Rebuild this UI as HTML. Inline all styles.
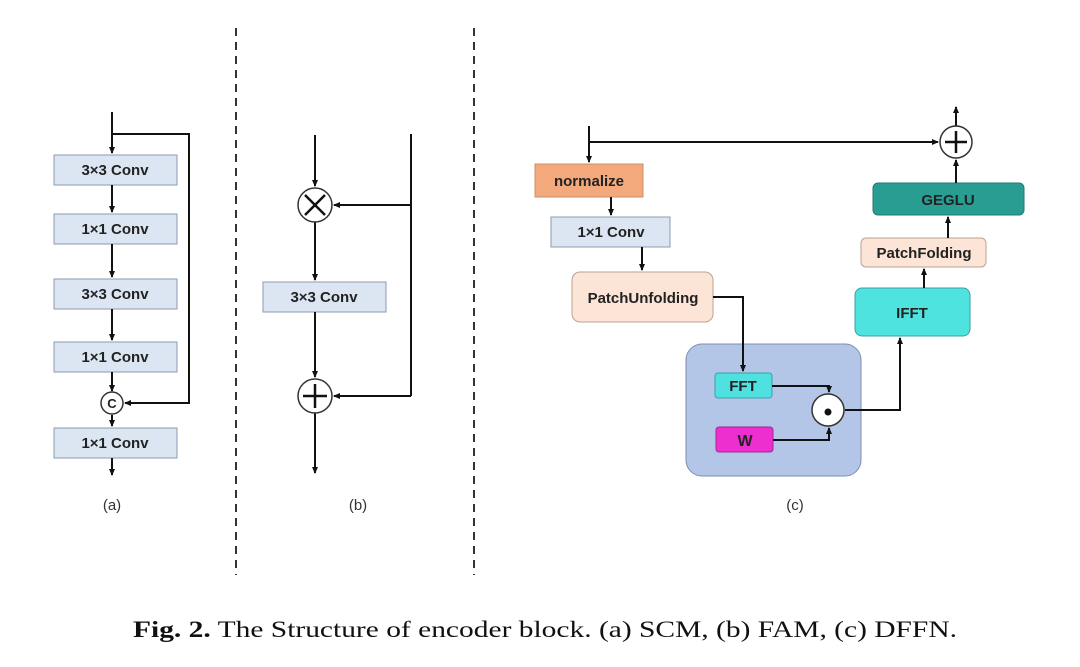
<!DOCTYPE html>
<html><head><meta charset="utf-8"><style>
html,body{margin:0;padding:0;background:#fff;}
svg{display:block;}
.t{font-family:"Liberation Sans",sans-serif;font-weight:bold;fill:#222;text-anchor:middle;}
</style></head><body>
<svg width="1080" height="667" viewBox="0 0 1080 667" xmlns="http://www.w3.org/2000/svg">
<defs>
<marker id="a" markerWidth="8" markerHeight="8" refX="6" refY="4" orient="auto" markerUnits="userSpaceOnUse"><path d="M0,1 L7,4 L0,7 z" fill="#111"/></marker>
</defs>
<g stroke="#333" stroke-width="2" stroke-dasharray="8,6">
<line x1="236" y1="28" x2="236" y2="575"/><line x1="474" y1="28" x2="474" y2="575"/>
</g>
<!-- (a) boxes -->
<g fill="#dce6f2" stroke="#8a9bb0" stroke-width="1">
<rect x="54" y="155" width="123" height="30"/><rect x="54" y="214" width="123" height="30"/>
<rect x="54" y="279" width="123" height="30"/><rect x="54" y="342" width="123" height="30"/>
<rect x="54" y="428" width="123" height="30"/><rect x="263" y="282" width="123" height="30"/>
</g>
<g class="t" font-size="15">
<text x="115" y="175">3×3 Conv</text><text x="115" y="234">1×1 Conv</text>
<text x="115" y="299">3×3 Conv</text><text x="115" y="362">1×1 Conv</text>
<text x="115" y="448">1×1 Conv</text><text x="324" y="302">3×3 Conv</text>
</g>
<g font-family="Liberation Sans,sans-serif" font-size="15" fill="#333" text-anchor="middle">
<text x="112" y="510">(a)</text><text x="358" y="510">(b)</text><text x="795" y="510">(c)</text></g>
<!-- (c) boxes -->
<rect x="535" y="164" width="108" height="33" fill="#f4a97c" stroke="#c9906a"/>
<text class="t" x="589" y="186" font-size="15">normalize</text>
<rect x="551" y="217" width="119" height="30" fill="#dce6f2" stroke="#8a9bb0"/>
<text class="t" x="611" y="237" font-size="15">1×1 Conv</text>
<rect x="572" y="272" width="141" height="50" rx="8" fill="#fce4d6" stroke="#b9a393"/>
<text class="t" x="643" y="303" font-size="15">PatchUnfolding</text>
<rect x="686" y="344" width="175" height="132" rx="16" fill="#b4c6e7" stroke="#7d8fb0"/>
<rect x="715" y="373" width="57" height="25" rx="3" fill="#4fe0e0" stroke="#3a9fa5"/>
<text class="t" x="743" y="391" font-size="15">FFT</text>
<rect x="716" y="427" width="57" height="25" rx="3" fill="#ee2fd0" stroke="#a52591"/>
<text class="t" x="745" y="446" font-size="16">W</text>
<rect x="855" y="288" width="115" height="48" rx="7" fill="#4fe3e0" stroke="#3a9fa5"/>
<text class="t" x="912" y="318" font-size="15">IFFT</text>
<rect x="861" y="238" width="125" height="29" rx="5" fill="#fce4d6" stroke="#b9a393"/>
<text class="t" x="924" y="258" font-size="15">PatchFolding</text>
<rect x="873" y="183" width="151" height="32" rx="5" fill="#2a9d92" stroke="#1f7a72"/>
<text class="t" x="948" y="205" font-size="15">GEGLU</text>
<!-- connectors -->
<g stroke="#111" stroke-width="2" fill="none">
<line x1="112" y1="112" x2="112" y2="153" marker-end="url(#a)"/>
<polyline points="112,134 189,134 189,403 125,403" marker-end="url(#a)"/>
<line x1="112" y1="185" x2="112" y2="212" marker-end="url(#a)"/>
<line x1="112" y1="244" x2="112" y2="277" marker-end="url(#a)"/>
<line x1="112" y1="309" x2="112" y2="340" marker-end="url(#a)"/>
<line x1="112" y1="372" x2="112" y2="391" marker-end="url(#a)"/>
<line x1="112" y1="415" x2="112" y2="426" marker-end="url(#a)"/>
<line x1="112" y1="458" x2="112" y2="475" marker-end="url(#a)"/>
<line x1="315" y1="135" x2="315" y2="186" marker-end="url(#a)"/>
<line x1="411" y1="134" x2="411" y2="396"/>
<line x1="411" y1="205" x2="334" y2="205" marker-end="url(#a)"/>
<line x1="411" y1="396" x2="334" y2="396" marker-end="url(#a)"/>
<line x1="315" y1="222" x2="315" y2="280" marker-end="url(#a)"/>
<line x1="315" y1="312" x2="315" y2="377" marker-end="url(#a)"/>
<line x1="315" y1="413" x2="315" y2="473" marker-end="url(#a)"/>
<line x1="589" y1="126" x2="589" y2="162" marker-end="url(#a)"/>
<line x1="589" y1="142" x2="938" y2="142" marker-end="url(#a)"/>
<line x1="956" y1="126" x2="956" y2="107" marker-end="url(#a)"/>
<line x1="611" y1="197" x2="611" y2="215" marker-end="url(#a)"/>
<line x1="642" y1="247" x2="642" y2="270" marker-end="url(#a)"/>
<polyline points="713,297 743,297 743,371" marker-end="url(#a)"/>
<polyline points="772,386 829,386 829,392" marker-end="url(#a)"/>
<polyline points="773,440 829,440 829,428" marker-end="url(#a)"/>
<polyline points="845,410 900,410 900,338" marker-end="url(#a)"/>
<line x1="924" y1="288" x2="924" y2="269" marker-end="url(#a)"/>
<line x1="948" y1="238" x2="948" y2="217" marker-end="url(#a)"/>
<line x1="956" y1="183" x2="956" y2="160" marker-end="url(#a)"/>
</g>
<circle cx="112" cy="403" r="11" fill="#fff" stroke="#333" stroke-width="1.5"/>
<text class="t" x="112" y="408" font-size="13">C</text>
<g fill="#fff" stroke="#333" stroke-width="1.5"><circle cx="315" cy="205" r="17"/><circle cx="315" cy="396" r="17"/><circle cx="956" cy="142" r="16"/><circle cx="828" cy="410" r="16"/></g>
<circle cx="828" cy="412" r="3.5" fill="#111"/>
<g stroke="#111" stroke-width="2.5"><line x1="305" y1="195" x2="325" y2="215"/><line x1="325" y1="195" x2="305" y2="215"/>
<line x1="303" y1="396" x2="327" y2="396"/><line x1="315" y1="384" x2="315" y2="408"/>
<line x1="945" y1="142" x2="967" y2="142"/><line x1="956" y1="131" x2="956" y2="153"/></g>
<!-- caption -->
<text x="133" y="637" font-family="Liberation Serif,serif" font-size="23" fill="#111" textLength="824" lengthAdjust="spacingAndGlyphs"><tspan font-weight="bold">Fig. 2.</tspan> The Structure of encoder block. (a) SCM, (b) FAM, (c) DFFN.</text>
</svg>
</body></html>
